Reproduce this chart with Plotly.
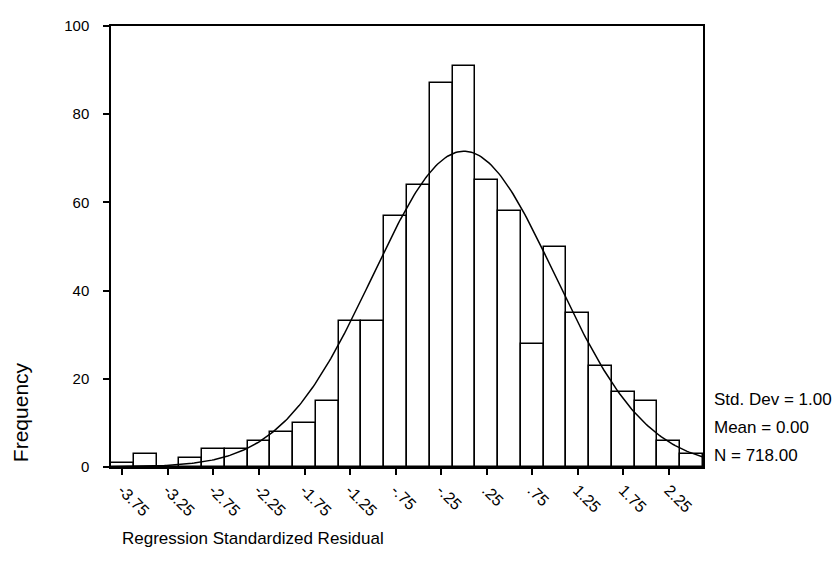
import numpy as np
import plotly.graph_objects as go

# Histogram data (bin centers, width 0.25)
bin_centers = [-3.75, -3.5, -3.25, -3.0, -2.75, -2.5, -2.25, -2.0, -1.75, -1.5, -1.25, -1.0,
               -0.75, -0.5, -0.25, 0.0, 0.25, 0.5, 0.75, 1.0, 1.25, 1.5, 1.75, 2.0, 2.25, 2.5]
frequencies = [1, 3, 0, 2, 4, 4, 6, 8, 10, 15, 33, 33,
               57, 64, 87, 91, 65, 58, 28, 50, 35, 23, 17, 15, 6, 3]
bin_width = 0.25
tick_vals = [-3.75, -3.25, -2.75, -2.25, -1.75, -1.25, -0.75, -0.25, 0.25, 0.75, 1.25, 1.75, 2.25]
tick_text = ["-3.75", "-3.25", "-2.75", "-2.25", "-1.75", "-1.25", "-.75", "-.25", ".25", ".75", "1.25", "1.75", "2.25"]
y_ticks = [0, 20, 40, 60, 80, 100]

std_dev = 1.00
mean = 0.00
n_obs = 718

FONT = "Liberation Sans, Arial, sans-serif"

x_lo = bin_centers[0] - bin_width / 2
x_hi = bin_centers[-1] + bin_width / 2

# Normal curve fitted from the reported stats
xc = np.linspace(x_lo, x_hi, 300)
yc = n_obs * bin_width * np.exp(-0.5 * ((xc - mean) / std_dev) ** 2) / (std_dev * np.sqrt(2 * np.pi))

fig = go.Figure()
fig.add_trace(go.Bar(
    x=bin_centers, y=frequencies, width=bin_width,
    marker=dict(color="white", line=dict(color="black", width=1.5)),
    showlegend=False, hoverinfo="x+y",
))
fig.add_trace(go.Scatter(
    x=xc, y=yc, mode="lines", line=dict(color="black", width=1.5),
    showlegend=False, hoverinfo="skip",
))

fig.update_layout(
    width=840, height=574,
    margin=dict(l=103, r=145, t=9, b=115),
    paper_bgcolor="white", plot_bgcolor="white",
    font=dict(family=FONT, size=15, color="black"),
    bargap=0,
    xaxis=dict(
        range=[x_lo, x_hi], tickmode="array", tickvals=tick_vals, ticktext=tick_text,
        tickangle=45, ticks="outside", ticklen=6, tickwidth=1.5, tickcolor="black",
        showgrid=False, zeroline=False, showline=True, linecolor="black", linewidth=1.5,
        mirror=True, tickfont=dict(family=FONT, size=16),
    ),
    yaxis=dict(
        range=[0, 100], tickmode="array", tickvals=y_ticks,
        ticks="outside", ticklen=6, tickwidth=1.5, tickcolor="black",
        showgrid=False, zeroline=False, showline=True, linecolor="black", linewidth=1.5,
        mirror=True, tickfont=dict(family=FONT, size=15), ticklabelstandoff=11,
    ),
    annotations=[
        dict(text="Frequency", xref="paper", yref="paper", x=-0.154, y=0.124,
             textangle=-90, showarrow=False, font=dict(family=FONT, size=21),
             xanchor="center", yanchor="middle"),
        dict(text="Regression Standardized Residual", xref="paper", yref="paper",
             x=0.015, y=-0.162, xanchor="left", yanchor="middle", showarrow=False,
             font=dict(family=FONT, size=17)),
        dict(text=f"Std. Dev = {std_dev:.2f}", xref="paper", yref="paper",
             x=1.015, y=(467 - 398) / 450, xanchor="left", yanchor="middle",
             showarrow=False, font=dict(family=FONT, size=17)),
        dict(text=f"Mean = {mean:.2f}", xref="paper", yref="paper",
             x=1.015, y=(467 - 427) / 450, xanchor="left", yanchor="middle",
             showarrow=False, font=dict(family=FONT, size=17)),
        dict(text=f"N = {n_obs:.2f}", xref="paper", yref="paper",
             x=1.015, y=(467 - 455) / 450, xanchor="left", yanchor="middle",
             showarrow=False, font=dict(family=FONT, size=17)),
    ],
)

fig.write_html("out.html")
